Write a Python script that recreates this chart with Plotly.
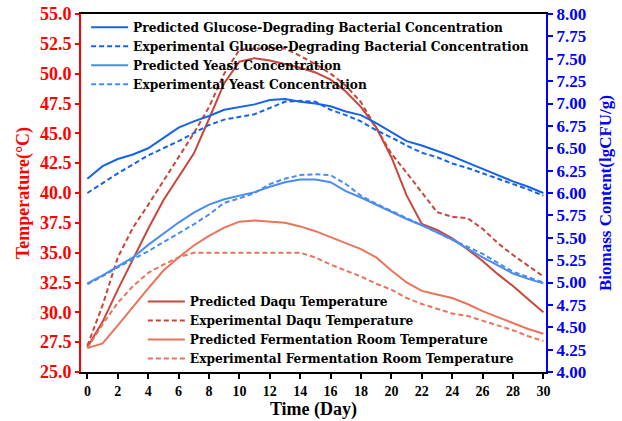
import plotly.graph_objects as go

days = list(range(0, 31))

pred_glucose = [6.16, 6.30, 6.38, 6.43, 6.50, 6.62, 6.73, 6.80, 6.86, 6.93, 6.96,
                6.99, 7.04, 7.05, 7.02, 7.00, 6.97, 6.91, 6.87, 6.78, 6.68,
                6.58, 6.53, 6.47, 6.41, 6.34, 6.27, 6.20, 6.13, 6.07, 6.00]
exp_glucose = [6.00, 6.11, 6.22, 6.32, 6.42, 6.50, 6.58, 6.67, 6.76, 6.82, 6.85,
               6.88, 6.95, 7.02, 7.03, 7.02, 6.93, 6.87, 6.80, 6.70, 6.62,
               6.53, 6.45, 6.40, 6.33, 6.28, 6.22, 6.16, 6.10, 6.04, 5.97]
pred_yeast = [4.99, 5.08, 5.18, 5.28, 5.42, 5.55, 5.67, 5.78, 5.87, 5.93, 5.97,
              6.01, 6.07, 6.12, 6.15, 6.15, 6.12, 6.02, 5.95, 5.87, 5.79,
              5.71, 5.64, 5.56, 5.48, 5.38, 5.28, 5.19, 5.10, 5.04, 4.99]
exp_yeast = [4.98, 5.07, 5.17, 5.26, 5.35, 5.45, 5.55, 5.65, 5.76, 5.89, 5.94,
             6.00, 6.10, 6.16, 6.20, 6.21, 6.20, 6.10, 5.97, 5.88, 5.80,
             5.72, 5.64, 5.56, 5.48, 5.40, 5.32, 5.22, 5.12, 5.06, 5.00]

pred_daqu = [27.1, 29.2, 31.9, 34.5, 37.0, 39.4, 41.4, 43.3, 46.2, 49.2, 51.0,
             51.3, 51.1, 50.8, 50.5, 50.1, 49.5, 48.5, 47.2, 45.5, 43.0,
             39.8, 37.4, 36.9, 36.2, 35.3, 34.3, 33.2, 32.2, 31.1, 30.0]
exp_daqu = [27.2, 30.6, 34.6, 37.1, 39.0, 41.0, 42.9, 45.0, 47.2, 50.0, 52.0,
            52.1, 52.1, 52.1, 51.5, 50.8, 50.0, 49.0, 47.6, 45.5, 43.3,
            41.7, 40.1, 38.4, 38.0, 37.9, 37.0, 35.8, 34.8, 33.9, 33.0]
pred_room = [27.0, 27.4, 28.9, 30.5, 32.0, 33.5, 34.6, 35.6, 36.4, 37.1, 37.6,
             37.7, 37.6, 37.5, 37.2, 36.8, 36.3, 35.8, 35.3, 34.6, 33.5,
             32.5, 31.8, 31.5, 31.2, 30.7, 30.1, 29.6, 29.1, 28.6, 28.2]
exp_room = [27.0, 29.0, 30.8, 32.2, 33.3, 34.0, 34.6, 35.0, 35.0, 35.0, 35.0,
            35.0, 35.0, 35.0, 35.0, 34.6, 34.0, 33.5, 33.0, 32.4, 31.9,
            31.2, 30.7, 30.3, 29.9, 29.7, 29.3, 28.9, 28.5, 28.0, 27.6]

x_ticks = list(range(0, 31, 2))

C_GLU = "#1763E8"
C_YEA = "#4B8CF2"
C_DAQ = "#C9463B"
C_ROOM = "#E9745B"
DASH = "5px,3px"
FONT = "Times New Roman, Liberation Serif, serif"
LFONT = "DejaVu Serif, Liberation Serif, serif"

fig = go.Figure()

def add(y, name, color, dash, axis, legend):
    fig.add_trace(go.Scatter(
        x=days, y=y, name=name, mode="lines", yaxis=axis, legend=legend,
        line=dict(color=color, width=2, dash=dash)))

add(pred_daqu, "Predicted Daqu Temperature", C_DAQ, "solid", "y", "legend2")
add(exp_daqu, "Experimental Daqu Temperature", C_DAQ, DASH, "y", "legend2")
add(pred_room, "Predicted Fermentation Room Temperature", C_ROOM, "solid", "y", "legend2")
add(exp_room, "Experimental Fermentation Room Temperature", C_ROOM, DASH, "y", "legend2")
add(pred_glucose, "Predicted Glucose-Degrading Bacterial Concentration", C_GLU, "solid", "y2", "legend")
add(exp_glucose, "Experimental Glucose-Degrading Bacterial Concentration", C_GLU, DASH, "y2", "legend")
add(pred_yeast, "Predicted Yeast Concentration", C_YEA, "solid", "y2", "legend")
add(exp_yeast, "Experimental Yeast Concentration", C_YEA, DASH, "y2", "legend")

fig.update_layout(
    width=622, height=421,
    margin=dict(l=81, r=76, t=14, b=49, autoexpand=False),
    plot_bgcolor="white", paper_bgcolor="white",
    font=dict(family=FONT, color="black"),
    xaxis=dict(
        range=[-0.42, 30.17], tickvals=x_ticks, showgrid=False, zeroline=False,
        showline=True, linecolor="black", linewidth=2, mirror=True, automargin=False,
        ticks="outside", ticklen=5, tickwidth=1.5, tickcolor="black",
        tickfont=dict(family=FONT, size=14, color="black", weight="bold"),
        title=dict(text="<b>Time (Day)</b>", font=dict(family=FONT, size=18, color="black"), standoff=2),
    ),
    yaxis=dict(
        range=[25, 55], dtick=2.5, tickformat=".1f", showgrid=False, zeroline=False,
        showline=True, linecolor="#FF0000", linewidth=2, automargin=False,
        ticks="outside", ticklen=4, tickwidth=1.5, tickcolor="#FF0000",
        tickfont=dict(family=FONT, size=18, color="#FF0000", weight="bold"),
        title=dict(text="<b>Temperature(°C)</b>", font=dict(family=FONT, size=18, color="#FF0000"), standoff=6),
    ),
    yaxis2=dict(
        range=[4, 8], dtick=0.25, tickformat=".2f", showgrid=False, zeroline=False,
        overlaying="y", side="right", anchor="x", automargin=False,
        showline=True, linecolor="#0000FF", linewidth=2,
        ticks="outside", ticklen=5, tickwidth=1.5, tickcolor="#0000FF",
        tickfont=dict(family=FONT, size=17, color="#0000FF", weight="bold"),
        title=dict(text="<b>Biomass Content(lgCFU/g)</b>", font=dict(family=FONT, size=17, color="#0000FF"), standoff=14),
    ),
    legend=dict(
        x=0.011, y=1.0035, xanchor="left", yanchor="top", bgcolor="rgba(0,0,0,0)",
        font=dict(family=LFONT, size=12.2, color="black", weight="bold"),
        tracegroupgap=0, itemwidth=37,
    ),
    legend2=dict(
        x=0.133, y=0.2374, xanchor="left", yanchor="top", bgcolor="rgba(0,0,0,0)",
        font=dict(family=LFONT, size=12.2, color="black", weight="bold"),
        tracegroupgap=0, itemwidth=37,
    ),
    showlegend=True,
)

fig.write_html("out.html", config={"displayModeBar": False},
               post_script="document.body.style.margin='0';document.body.style.overflow='hidden';")
